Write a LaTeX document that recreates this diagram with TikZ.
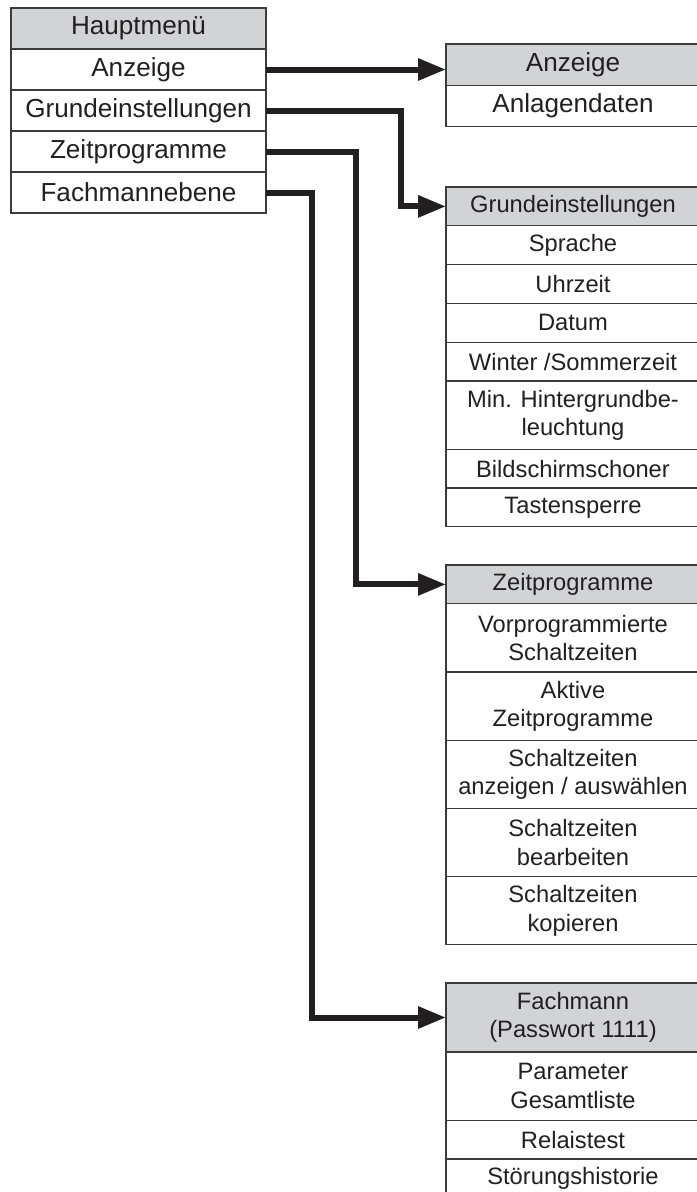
\documentclass[tikz,border=0pt]{standalone}
\usepackage{fontspec}
\setmainfont{Liberation Sans}
\usetikzlibrary{positioning, arrows.meta, calc}
\definecolor{headgray}{RGB}{209,211,212}
\definecolor{boxline}{RGB}{60,60,60}
\definecolor{inkblack}{RGB}{35,31,32}
\newcommand{\menufont}{\fontsize{26.2}{30}\selectfont}
\newcommand{\subfont}{\fontsize{23.8}{28.5}\selectfont}

\begin{document}
\begin{tikzpicture}[x=1bp, y=-1bp,
    row/.style={draw=boxline, line width=1.3bp, inner sep=0pt, outer sep=0pt, align=center, text=inkblack},
    mainrow/.style={row, minimum width=255bp, minimum height=41bp, font=\menufont},
    subrow/.style={row, minimum width=254bp, minimum height=38.8bp, font=\subfont},
    tallrow/.style={subrow, minimum height=68.2bp},
    head/.style={fill=headgray},
    conn/.style={draw=inkblack, line width=6bp, line join=miter, -{Triangle[length=28bp, width=21bp]}}]

    \useasboundingbox (0,0) rectangle (697,1192);
    \clip (0,0) rectangle (697,1192);

    % Main menu
    \node[mainrow, head, anchor=north west] (haupt) at (11,8) {Hauptmenü};
    \node[mainrow, below=0pt of haupt] (m1) {Anzeige};
    \node[mainrow, below=0pt of m1] (m2) {Grundeinstellungen};
    \node[mainrow, below=0pt of m2] (m3) {Zeitprogramme};
    \node[mainrow, below=0pt of m3] (m4) {Fachmannebene};

    % Anzeige
    \node[subrow, head, font=\menufont, minimum height=41.5bp, anchor=north west] (anzH) at (446,44) {Anzeige};
    \node[subrow, font=\menufont, minimum height=41bp, below=0pt of anzH] (anz1) {Anlagendaten};

    % Grundeinstellungen
    \node[subrow, head, anchor=north west] (grdH) at (446,187) {Grundeinstellungen};
    \node[subrow, below=0pt of grdH] (grd1) {Sprache};
    \node[subrow, below=0pt of grd1] (grd2) {Uhrzeit};
    \node[subrow, below=0pt of grd2] (grd3) {Datum};
    \node[subrow, below=0pt of grd3] (grd4) {Winter /Sommerzeit};
    \node[tallrow, below=0pt of grd4] (grd5) {Min. Hintergrundbe-\\leuchtung};
    \node[subrow, below=0pt of grd5] (grd6) {Bildschirmschoner};
    \node[subrow, below=0pt of grd6] (grd7) {Tastensperre};

    % Zeitprogramme
    \node[subrow, head, anchor=north west] (zeitH) at (446,565) {Zeitprogramme};
    \node[tallrow, below=0pt of zeitH] (zeit1) {Vorprogrammierte\\Schaltzeiten};
    \node[tallrow, below=0pt of zeit1] (zeit2) {Aktive\\Zeitprogramme};
    \node[tallrow, below=0pt of zeit2] (zeit3) {Schaltzeiten\\anzeigen / auswählen};
    \node[tallrow, below=0pt of zeit3] (zeit4) {Schaltzeiten\\bearbeiten};
    \node[tallrow, below=0pt of zeit4] (zeit5) {Schaltzeiten\\kopieren};

    % Fachmann
    \node[tallrow, head, minimum height=69bp, anchor=north west] (fachH) at (446,983) {Fachmann\\(Passwort 1111)};
    \node[tallrow, below=0pt of fachH] (fach1) {Parameter\\Gesamtliste};
    \node[subrow, below=0pt of fach1] (fach2) {Relaistest};
    \node[subrow, below=0pt of fach2] (fach3) {Störungshistorie};

    % connectors
    \coordinate (bendG) at (401,0);
    \coordinate (bendZ) at (356,0);
    \coordinate (bendF) at (312,0);
    \draw[conn] (m1.east) -- (m1.east -| anzH.west);
    \draw[conn] (m2.east) -- (m2.east -| bendG) |- (grdH.west);
    \draw[conn] (m3.east) -- (m3.east -| bendZ) |- (zeitH.west);
    \draw[conn] (m4.east) -- (m4.east -| bendF) |- (fachH.west);
\end{tikzpicture}
\end{document}
